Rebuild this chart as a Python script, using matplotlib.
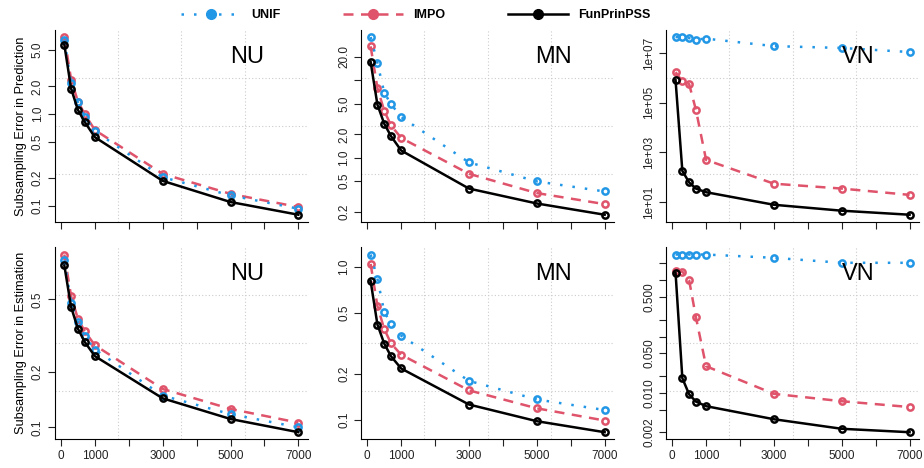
import numpy as np
import matplotlib
matplotlib.use('Agg')
import matplotlib.pyplot as plt
from matplotlib.lines import Line2D

plt.rcParams['font.family'] = ['Liberation Sans', 'DejaVu Sans']

#------------------------数据-----------------------------
sizes = [100, 300, 500, 700, 1000, 3000, 5000, 7000]

pred_nu_unif = [6.45, 2.18, 1.34, 0.94, 0.65, 0.205, 0.13, 0.093]
pred_nu_impo = [6.9, 2.37, 1.37, 1.0, 0.67, 0.223, 0.135, 0.097]
pred_nu_fun = [5.7, 1.89, 1.11, 0.82, 0.56, 0.187, 0.11, 0.08]

pred_mn_unif = [36, 16.7, 6.9, 4.93, 3.35, 0.87, 0.495, 0.367]
pred_mn_impo = [27.3, 7.9, 4.04, 2.61, 1.8, 0.62, 0.35, 0.252]
pred_mn_fun = [17.2, 4.83, 2.75, 1.9, 1.24, 0.40, 0.257, 0.184]

pred_vn_unif = [4.4e7, 4.3e7, 4.0e7, 3.5e7, 3.8e7, 1.9e7, 1.6e7, 1.1e7]
pred_vn_impo = [1.7e6, 7.2e5, 5.6e5, 5.2e4, 500, 55, 35, 19.5]
pred_vn_fun = [8.0e5, 180, 62, 35, 25, 7.8, 4.5, 3.1]

est_nu_unif = [0.82, 0.48, 0.378, 0.315, 0.266, 0.149, 0.118, 0.1]
est_nu_impo = [0.88, 0.52, 0.392, 0.335, 0.281, 0.162, 0.126, 0.106]
est_nu_fun = [0.767, 0.454, 0.346, 0.293, 0.245, 0.144, 0.111, 0.094]

est_mn_unif = [1.21, 0.84, 0.51, 0.427, 0.356, 0.18, 0.136, 0.116]
est_mn_impo = [1.05, 0.555, 0.394, 0.317, 0.267, 0.156, 0.119, 0.099]
est_mn_fun = [0.81, 0.421, 0.316, 0.261, 0.217, 0.126, 0.098, 0.083]

est_vn_unif = [2.86, 2.86, 2.86, 2.86, 2.86, 2.5, 2.04, 2.04]
est_vn_impo = [1.45, 1.42, 1.0, 0.22, 0.0297, 0.0096, 0.0071, 0.0056]
est_vn_fun = [1.35, 0.0182, 0.0094, 0.007, 0.0058, 0.0034, 0.0023, 0.002]

methods = ['UNIF', 'IMPO', 'FunPrinPSS']
xticks = [0, 1000, 2000, 3000, 4000, 5000, 6000, 7000]
xticklabels = ['0', '1000', '', '3000', '', '5000', '', '7000']

# 每个面板: (数据, 名称, y刻度, y刻度标签)
panels = [
    [(pred_nu_unif, pred_nu_impo, pred_nu_fun), 'NU',
     [0.1, 0.2, 0.5, 1, 2, 5], ['0.1', '0.2', '0.5', '1.0', '2.0', '5.0']],
    [(pred_mn_unif, pred_mn_impo, pred_mn_fun), 'MN',
     [0.2, 0.5, 1, 2, 5, 10, 20], ['0.2', '0.5', '1.0', '2.0', '5.0', '', '20.0']],
    [(pred_vn_unif, pred_vn_impo, pred_vn_fun), 'VN',
     [1e1, 1e3, 1e5, 1e7], ['1e+01', '1e+03', '1e+05', '1e+07']],
    [(est_nu_unif, est_nu_impo, est_nu_fun), 'NU',
     [0.1, 0.2, 0.5], ['0.1', '0.2', '0.5']],
    [(est_mn_unif, est_mn_impo, est_mn_fun), 'MN',
     [0.1, 0.2, 0.5, 1.0], ['0.1', '0.2', '0.5', '1.0']],
    [(est_vn_unif, est_vn_impo, est_vn_fun), 'VN',
     [0.002, 0.005, 0.01, 0.02, 0.05, 0.1, 0.2, 0.5, 1, 2],
     ['0.002', '', '0.010', '', '0.050', '', '', '0.500', '', '']],
]

colors = ['#2297E6', '#DF536B', 'black']
styles = [(0, (1, 4)), (0, (4, 3)), '-']
zorders = [3, 2, 4]

fig = plt.figure(figsize=(9.24, 4.68), dpi=100)
lefts = [0.0595, 0.391, 0.721]
bottoms = [0.526, 0.0613]
w = 0.2735
h = 0.41

xlo = 100 - 0.04 * 6900
xhi = 7000 + 0.04 * 6900

for k, (series, name, yt, ytl) in enumerate(panels):
    row, col = k // 3, k % 3
    ax = fig.add_axes([lefts[col], bottoms[row], w, h])
    ax.set_yscale('log')

    # R风格的坐标范围(4%扩展)
    allv = np.concatenate([np.array(s) for s in series])
    lmin, lmax = np.log10(allv.min()), np.log10(allv.max())
    d = lmax - lmin
    ylo, yhi = lmin - 0.04 * d, lmax + 0.04 * d
    ax.set_xlim(xlo, xhi)
    ax.set_ylim(10 ** ylo, 10 ** yhi)

    # grid(nx=4, ny=4)
    for i in range(1, 4):
        ax.axvline(xlo + i * (xhi - xlo) / 4, color='#cccccc', lw=0.8, ls=(0, (1, 2)), zorder=0)
        ax.axhline(10 ** (ylo + i * (yhi - ylo) / 4), color='#cccccc', lw=0.8, ls=(0, (1, 2)), zorder=0)

    for s, c, ls, z in zip(series, colors, styles, zorders):
        ax.plot(sizes, s, color=c, ls=ls, lw=1.8, marker='o', ms=4.5,
                mfc='none', mew=1.8, zorder=z)

    ax.text(0.76, 0.86, name, transform=ax.transAxes, fontsize=17,
            ha='center', va='center', zorder=6)

    ax.set_xticks(xticks)
    if row == 1:
        ax.set_xticklabels(xticklabels, fontsize=8.5)
    else:
        ax.set_xticklabels([])
    ax.yaxis.set_minor_locator(matplotlib.ticker.NullLocator())
    ax.set_yticks(yt)
    ax.set_yticklabels(ytl, fontsize=8.5, rotation=90, va='center')
    ax.tick_params(direction='out', length=5, width=0.8, colors='#222222', pad=3)
    ax.spines['top'].set_visible(False)
    ax.spines['right'].set_visible(False)
    ax.spines['left'].set_linewidth(0.8)
    ax.spines['bottom'].set_linewidth(0.8)

    if col == 0:
        lab = 'Subsampling Error in Prediction' if row == 0 else 'Subsampling Error in Estimation'
        ax.set_ylabel(lab, fontsize=9.2)
        ax.yaxis.set_label_coords(-0.11, 0.5)

handles = [Line2D([], [], color=c, ls=ls, lw=1.8, marker='o', ms=7)
           for c, ls in zip(colors, styles)]
leg = fig.legend(handles, methods, loc='center', bbox_to_anchor=(0.45, 0.968),
                 ncol=3, frameon=False, handlelength=4.8, handletextpad=0.8,
                 columnspacing=5.0, prop={'weight': 'bold', 'size': 9})

fig.savefig('out.png', dpi=100)
